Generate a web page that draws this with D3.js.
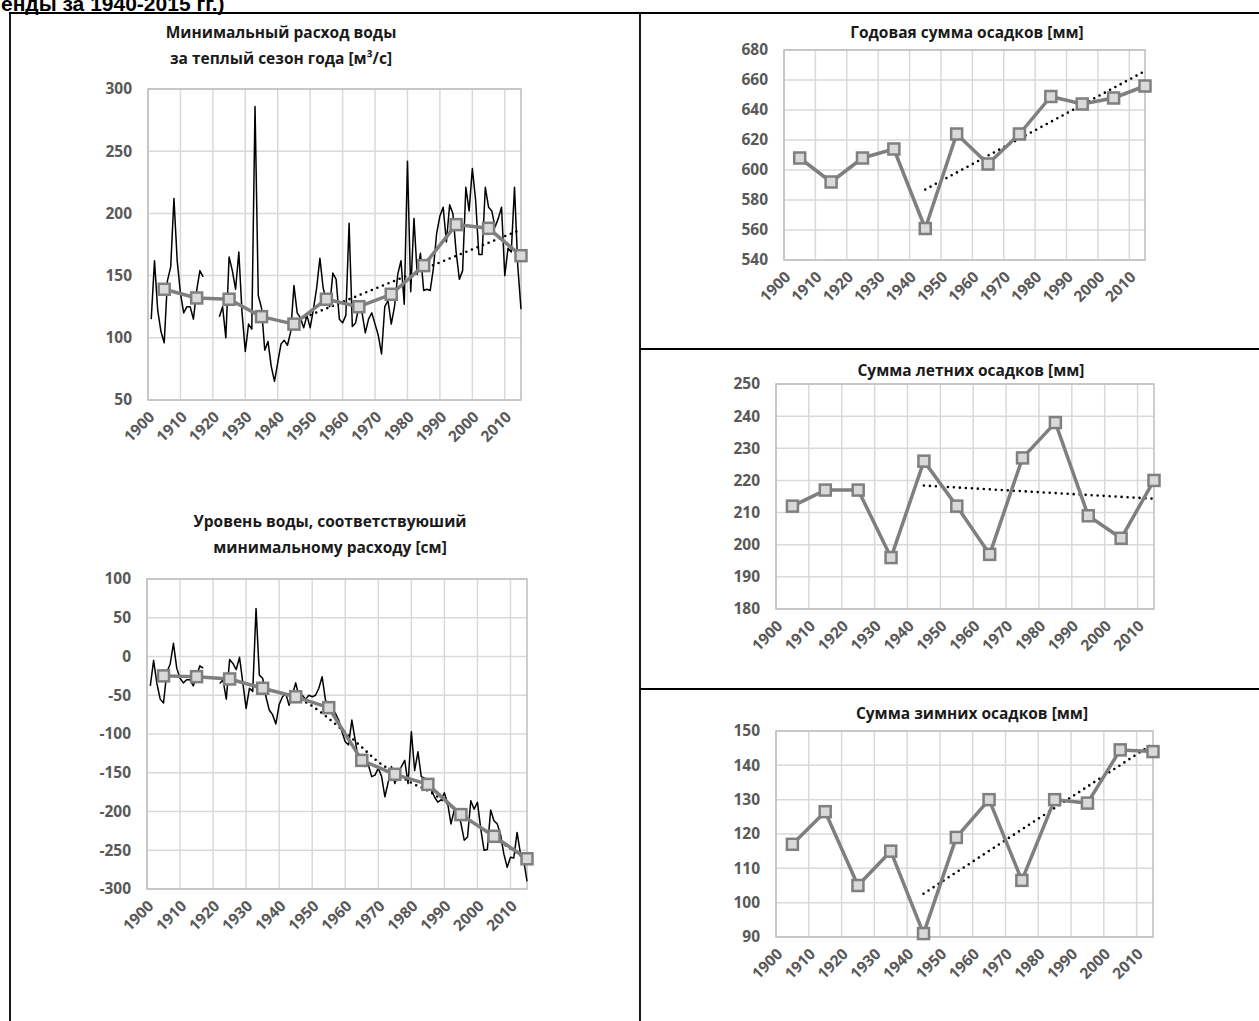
<!DOCTYPE html>
<html>
<head>
<meta charset="utf-8">
<title>Расход, уровень воды и осадки</title>
<style>
  body { margin: 0; background: #fff; }
  svg { display: block; }
  .title { font-family: "Open Sans", sans-serif; font-size: 15.5px; font-weight: bold; fill: #1a1a1a; }
  .tick text { font-family: "Open Sans", sans-serif; font-size: 15.5px; font-weight: bold; fill: #595959; }
  .grid line { stroke: #d9d9d9; stroke-width: 1.5px; }
  .frame { stroke: #000; stroke-width: 1.8px; }
</style>
</head>
<body>
<script src="https://d3js.org/d3.v7.min.js"></script>
<script>

// annual values 1901-2015, null = no observations
var annualStart = 1901;
var flowAnnual = [
  115,162,122,105,96,146,157,212,162,136,120,125,125,115,138,154,149,
  null,null,null,null,
  117,125,100,165,154,139,169,120,89,111,107,286,134,124,90,97,77,65,80,95,98,94,105,142,
  120,116,108,118,108,123,140,164,140,130,125,152,147,115,112,118,192,109,112,125,
  120,104,115,120,111,102,87,125,130,111,
  125,151,162,127,242,137,196,151,168,138,
  139,138,156,184,198,205,177,207,200,169,
  147,154,221,202,236,211,167,167,221,205,
  202,189,196,205,150,172,169,221,158,123
];
var levelAnnual = [
  -38,-5,-35,-55,-60,-20,-10,17,-15,-28,-34,-30,-30,-38,-25,-12,-15,
  null,null,null,null,
  -35,-30,-55,-4,-9,-17,-1,-34,-67,-41,-45,62,-24,-28,-52,-69,-75,-87,-62,-52,-48,-63,-50,-34,
  -52,-50,-55,-50,-52,-50,-41,-26,-56,-65,-69,-73,-82,-97,-110,-114,-82,-108,-134,-140,
  -142,-140,-155,-153,-144,-155,-181,-162,-142,-164,
  -151,-142,-134,-164,-97,-147,-123,-155,-157,-162,
  -172,-181,-188,-185,-176,-190,-216,-198,-198,-215,
  -237,-233,-186,-197,-188,-222,-250,-249,-198,-212,
  -216,-230,-255,-272,-259,-260,-227,-254,-263,-290
];

// decade means, plotted at the middle of each decade
var decades = [1905,1915,1925,1935,1945,1955,1965,1975,1985,1995,2005,2015];
var flowDecade   = [139,132,131,117,111,131,125,135,158,191,188,166];
var levelDecade  = [-25,-26,-29,-41,-52,-66,-134,-152,-165,-204,-232,-261];
var precipYear   = [608,592,608,614,561,624,604,624,649,644,648,656];
var precipSummer = [212,217,217,196,226,212,197,227,238,209,202,220];
var precipWinter = [117,126.5,105,115,91,119,130,106.5,130,129,144.5,144];

// trend lines 1945-2015
var trendYears = [1945,2015];
var flowTrend = [113,187];
var precipYearTrend = [587,666];
var precipSummerTrend = [218.4,214.3];
var precipWinterTrend = [102.6,146.3];
var levelTrendYears = [1945,1950,1955,1960,1965,1970,1975,1980,1985,1990,1995,2000,2005,2010,2015];
var levelTrend = [-52,-64,-80,-98,-117,-136,-150,-163,-173,-187,-203,-218,-233,-248,-262];

var xTicks = [1900,1910,1920,1930,1940,1950,1960,1970,1980,1990,2000,2010];

var years = d3.range(annualStart, annualStart + flowAnnual.length);
function pairs(xs, ys) { return xs.map(function (x, i) { return {x: x, y: ys[i]}; }); }

var charts = [
  {title: ["Минимальный расход воды", "за теплый сезон года [м³/с]"], tx: 281, ty: [38, 64],
   box: [148, 521, 89, 400], y: [50, 300], step: 50,
   annual: pairs(years, flowAnnual), decade: pairs(decades, flowDecade), trend: pairs(trendYears, flowTrend)},
  {title: ["Уровень воды, соответствуюший", "минимальному расходу [см]"], tx: 330, ty: [527, 553],
   box: [147, 527, 579, 889], y: [-300, 100], step: 50,
   annual: pairs(years, levelAnnual), decade: pairs(decades, levelDecade), trend: pairs(levelTrendYears, levelTrend)},
  {title: ["Годовая сумма осадков [мм]"], tx: 967, ty: [38],
   box: [784, 1145, 50, 260], y: [540, 680], step: 20,
   decade: pairs(decades, precipYear), trend: pairs(trendYears, precipYearTrend)},
  {title: ["Сумма летних осадков [мм]"], tx: 971, ty: [376],
   box: [776, 1154, 384, 609], y: [180, 250], step: 10,
   decade: pairs(decades, precipSummer), trend: pairs(trendYears, precipSummerTrend)},
  {title: ["Сумма зимних осадков [мм]"], tx: 972, ty: [719],
   box: [776, 1153, 731, 937], y: [90, 150], step: 10,
   decade: pairs(decades, precipWinter), trend: pairs(trendYears, precipWinterTrend)}
];

var svg = d3.select("body").append("svg")
    .attr("width", 1259)
    .attr("height", 1021);

// heading line of the page, cut off at the top as in the scan
svg.append("text")
    .attr("x", 1).attr("y", 11)
    .style("font-family", "'Liberation Sans', Arial, sans-serif")
    .style("font-size", "21px").style("font-weight", "bold")
    .text("енды за 1940-2015 гг.)");

// table frame
svg.append("line").attr("class", "frame").attr("x1", 9).attr("x2", 1259).attr("y1", 13).attr("y2", 13);
svg.append("line").attr("class", "frame").attr("x1", 10).attr("x2", 10).attr("y1", 13).attr("y2", 1021);
svg.append("line").attr("class", "frame").attr("x1", 640).attr("x2", 640).attr("y1", 13).attr("y2", 1021);
svg.append("line").attr("class", "frame").attr("x1", 640).attr("x2", 1259).attr("y1", 349).attr("y2", 349);
svg.append("line").attr("class", "frame").attr("x1", 640).attr("x2", 1259).attr("y1", 689).attr("y2", 689);

charts.forEach(function (c) {
  var g = svg.append("g");
  var x = d3.scaleLinear().domain([1900, 2015]).range([c.box[0], c.box[1]]);
  var y = d3.scaleLinear().domain(c.y).range([c.box[3], c.box[2]]);
  var yTicks = d3.range(c.y[0], c.y[1] + c.step / 2, c.step);

  g.selectAll(".ttl").data(c.title).enter().append("text")
      .attr("class", "title")
      .attr("x", c.tx)
      .attr("y", function (d, i) { return c.ty[i]; })
      .attr("text-anchor", "middle")
      .text(function (d) { return d; });

  // grid
  var grid = g.append("g").attr("class", "grid");
  grid.selectAll(".h").data(yTicks).enter().append("line")
      .attr("x1", c.box[0]).attr("x2", c.box[1])
      .attr("y1", function (d) { return y(d); }).attr("y2", function (d) { return y(d); });
  grid.selectAll(".v").data(xTicks).enter().append("line")
      .attr("x1", function (d) { return x(d); }).attr("x2", function (d) { return x(d); })
      .attr("y1", c.box[2]).attr("y2", c.box[3]);
  g.append("rect")
      .attr("x", c.box[0]).attr("y", c.box[2])
      .attr("width", c.box[1] - c.box[0]).attr("height", c.box[3] - c.box[2])
      .attr("fill", "none").attr("stroke", "#bfbfbf").attr("stroke-width", 1.5);

  // axes
  var gy = g.append("g")
      .attr("transform", "translate(" + c.box[0] + ",0)")
      .call(d3.axisLeft(y).tickValues(yTicks).tickSize(0).tickPadding(16)
        .tickFormat(function (d) { return String(d); }));
  gy.select(".domain").remove();

  var gx = g.append("g")
      .attr("transform", "translate(0," + c.box[3] + ")")
      .call(d3.axisBottom(x).tickValues(xTicks).tickFormat(d3.format("d")).tickSize(0));
  gx.select(".domain").remove();
  gx.selectAll(".tick text")
      .attr("y", 0).attr("dy", 0)
      .attr("text-anchor", "end")
      .attr("transform", "translate(7,18) rotate(-45)");

  var line = d3.line()
      .defined(function (d) { return d.y !== null; })
      .x(function (d) { return x(d.x); })
      .y(function (d) { return y(d.y); });

  if (c.annual) {
    g.append("path").datum(c.annual)
        .attr("d", line)
        .attr("fill", "none").attr("stroke", "#000").attr("stroke-width", 1.5)
        .attr("stroke-linejoin", "round");
  }

  g.append("path").datum(c.trend)
      .attr("d", line.curve(d3.curveMonotoneX))
      .attr("fill", "none").attr("stroke", "#000").attr("stroke-width", 2.6)
      .attr("stroke-linecap", "round").attr("stroke-dasharray", "0,6");
  line.curve(d3.curveLinear);

  g.append("path").datum(c.decade)
      .attr("d", line)
      .attr("fill", "none").attr("stroke", "#7f7f7f").attr("stroke-width", 3.5)
      .attr("stroke-linejoin", "round");

  g.selectAll(".sq").data(c.decade).enter().append("rect")
      .attr("x", function (d) { return x(d.x) - 5.5; })
      .attr("y", function (d) { return y(d.y) - 5.5; })
      .attr("width", 11).attr("height", 11)
      .attr("fill", "#d9d9d9").attr("stroke", "#7f7f7f").attr("stroke-width", 2.5);
});

</script>
</body>
</html>
